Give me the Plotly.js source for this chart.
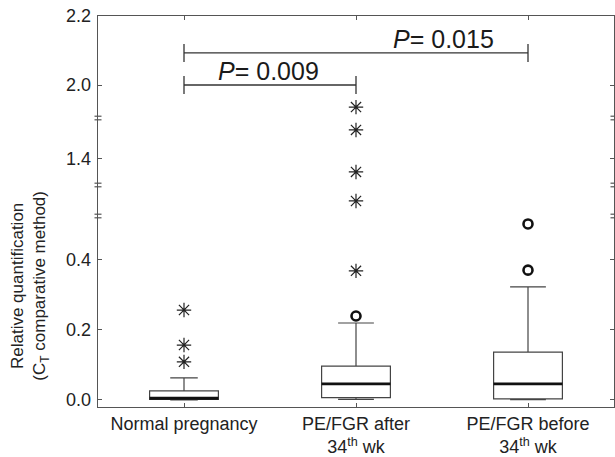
<!DOCTYPE html>
<html>
<head>
<meta charset="utf-8">
<script src="https://cdn.plot.ly/plotly-3.0.1.min.js"></script>
<style>html,body{margin:0;padding:0;background:#fff;}#chart{width:615px;height:457px;}</style>
</head>
<body>
<div id="chart"></div>
<script>
// ---- data ----
const categories = ['Normal pregnancy', 'PE/FGR after<br>34<sup>th</sup> wk', 'PE/FGR before<br>34<sup>th</sup> wk'];
const lowerFence = [0.000, 0.002, 0.001];
const q1Values = [0.002, 0.007, 0.003];
const medianValues = [0.005, 0.046, 0.046];
const q3Values = [0.026, 0.097, 0.137];
const upperFence = [0.063, 0.220, 0.323];
// extreme outliers (asterisks)
const extremeCat = [categories[0], categories[0], categories[0], categories[1], categories[1], categories[1], categories[1], categories[1]];
const extremeVal = [0.257, 0.157, 0.109, 1.936, 1.483, 1.363, 0.843, 0.369];
// mild outliers (circles)
const outlierCat = [categories[1], categories[2], categories[2]];
const outlierVal = [0.240, 0.371, 0.503];
// y tick labels
const yTickVals = [0.0, 0.2, 0.4, 1.4, 2.0, 2.2];
const yTickText = ['0.0', '0.2', '0.4', '1.4', '2.0', '2.2'];
// comparisons
const compFrom = [0, 0];
const compTo = [1, 2];
const compY = [2.0, 2.093];
const compLabel = ['<i>P</i>= 0.009', '<i>P</i>= 0.015'];

// ---- broken axis segments ----
const segments = [
  {ax: '', range: [-0.02, 0.5257], domain: [0, 0.4885]},
  {ax: '2', range: [0.8, 0.8886], domain: [0.4885, 0.5678]},
  {ax: '3', range: [1.3257, 1.5171], domain: [0.5678, 0.7391]},
  {ax: '4', range: [1.9043, 2.2], domain: [0.7391, 1]}
];

const FONT = 'Liberation Sans, Arial, Helvetica, sans-serif';
const AX = '#555';
const capWidths = [0.4, 0.52, 0.52];
const traces = [];

categories.forEach((c, i) => {
  traces.push({
    type: 'box', x: [c], q1: [q1Values[i]], median: [medianValues[i]], q3: [q3Values[i]],
    lowerfence: [lowerFence[i]], upperfence: [upperFence[i]],
    xaxis: 'x', yaxis: 'y', width: 0.4, whiskerwidth: capWidths[i],
    fillcolor: '#fff', line: {color: '#444', width: 1.2}, boxpoints: false, hoverinfo: 'skip', showlegend: false
  });
});
traces.push({
  type: 'box', x: categories, q1: medianValues, median: medianValues, q3: medianValues,
  lowerfence: medianValues, upperfence: medianValues,
  xaxis: 'x', yaxis: 'y', width: 0.4, whiskerwidth: 0,
  fillcolor: 'rgba(0,0,0,0)', line: {color: '#111', width: 2.8}, boxpoints: false, hoverinfo: 'skip', showlegend: false
});

segments.forEach(seg => {
  const ex = [], ey = [], ox = [], oy = [];
  extremeVal.forEach((v, i) => { if (v >= seg.range[0] && v <= seg.range[1]) { ex.push(extremeCat[i]); ey.push(v); } });
  outlierVal.forEach((v, i) => { if (v >= seg.range[0] && v <= seg.range[1]) { ox.push(outlierCat[i]); oy.push(v); } });
  traces.push({type: 'scatter', mode: 'markers', x: ex, y: ey, xaxis: 'x' + seg.ax, yaxis: 'y' + seg.ax,
    marker: {symbol: 'asterisk-open', size: 12, color: '#222', line: {color: '#222', width: 1.2}}, showlegend: false, hoverinfo: 'skip'});
  traces.push({type: 'scatter', mode: 'markers', x: ox, y: oy, xaxis: 'x' + seg.ax, yaxis: 'y' + seg.ax,
    marker: {symbol: 'circle-open', size: 9, color: '#111', line: {color: '#111', width: 2.6}}, showlegend: false, hoverinfo: 'skip'});
});

const layout = {
  width: 615, height: 457,
  margin: {l: 98, r: 1, t: 16, b: 50},
  paper_bgcolor: '#fff', plot_bgcolor: '#fff',
  font: {family: FONT, color: '#222', size: 18},
  showlegend: false,
  shapes: [], annotations: []
};

segments.forEach((seg, k) => {
  const xa = {
    type: 'category', categoryarray: categories, categoryorder: 'array', range: [-0.5, 2.5],
    anchor: 'y' + seg.ax, showgrid: false, zeroline: false, fixedrange: true
  };
  if (k === 0) {
    Object.assign(xa, {showline: true, linecolor: AX, linewidth: 1.3, ticks: 'inside', ticklen: 4, tickcolor: AX,
      tickfont: {size: 18, color: '#222', family: FONT}});
  } else if (k === segments.length - 1) {
    Object.assign(xa, {side: 'top', showline: true, linecolor: AX, linewidth: 1.3, ticks: 'inside', ticklen: 4, tickcolor: AX,
      showticklabels: false});
  } else {
    Object.assign(xa, {visible: false});
  }
  layout['xaxis' + seg.ax] = xa;
  const tv = [], tt = [];
  yTickVals.forEach((v, i) => { if (v >= seg.range[0] && v <= seg.range[1]) { tv.push(v); tt.push(yTickText[i]); } });
  layout['yaxis' + seg.ax] = {
    domain: seg.domain, range: seg.range, anchor: 'x' + seg.ax,
    tickmode: 'array', tickvals: tv, ticktext: tt,
    showline: true, linecolor: AX, linewidth: 1.3, mirror: 'ticks',
    ticks: 'inside', ticklen: 4, tickcolor: AX, ticklabelstandoff: 2,
    tickfont: {size: 18, color: '#222', family: FONT},
    showgrid: false, zeroline: false, fixedrange: true
  };
});

// break marks on both vertical axes
segments.slice(1).forEach(seg => {
  [0, 1].forEach(xp => {
    [-1.8, 1.8].forEach(dy => {
      layout.shapes.push({type: 'line', xref: 'paper', yref: 'paper', xsizemode: 'pixel', ysizemode: 'pixel',
        xanchor: xp, yanchor: seg.domain[0], x0: -3.5, x1: 3.5, y0: dy, y1: dy,
        line: {color: AX, width: 1.2}});
    });
  });
});

// comparison brackets
compFrom.forEach((f, i) => {
  const t = compTo[i], y = compY[i];
  const sty = {color: '#333', width: 1.3};
  layout.shapes.push({type: 'line', xref: 'x4', yref: 'y4', x0: f, x1: t, y0: y, y1: y, line: sty});
  [f, t].forEach(xx => layout.shapes.push({type: 'line', xref: 'x4', yref: 'y4', x0: xx, x1: xx,
    y0: y - 0.026, y1: y + 0.026, line: sty}));
});
layout.annotations.push({xref: 'x4', yref: 'y4', x: 0.49, y: 2.04, text: compLabel[0], showarrow: false,
  font: {size: 25, color: '#1a1a1a', family: FONT}, xanchor: 'center', yanchor: 'middle'});
layout.annotations.push({xref: 'x4', yref: 'y4', x: 1.51, y: 2.134, text: compLabel[1], showarrow: false,
  font: {size: 25, color: '#1a1a1a', family: FONT}, xanchor: 'center', yanchor: 'middle'});

// y-axis title
layout.annotations.push({xref: 'paper', yref: 'paper', x: -0.132, y: 0.31, xanchor: 'center', yanchor: 'middle',
  text: 'Relative quantification<br>(C<sub>T</sub> comparative method)', textangle: -90, showarrow: false,
  font: {size: 17, color: '#222', family: FONT}});

Plotly.newPlot('chart', traces, layout, {displayModeBar: false, staticPlot: true});
</script>
</body>
</html>
